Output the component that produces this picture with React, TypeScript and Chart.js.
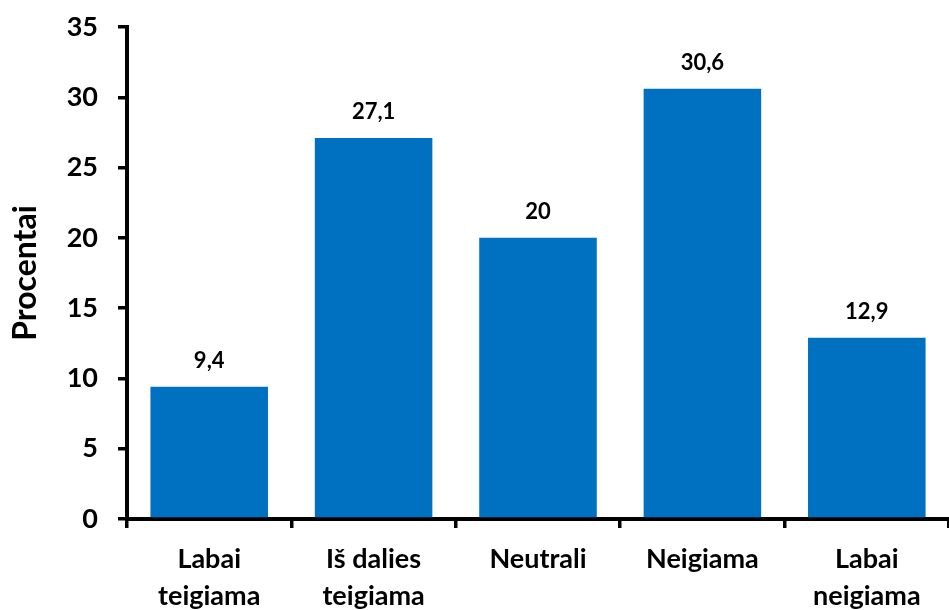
import React, { useEffect, useRef } from "react";
import { Chart, registerables } from "chart.js";

Chart.register(...registerables);

const categories: string[][] = [
  ["Labai", "teigiama"],
  ["Iš dalies", "teigiama"],
  ["Neutrali"],
  ["Neigiama"],
  ["Labai", "neigiama"],
];
const values: number[] = [9.4, 27.1, 20, 30.6, 12.9];
const valueLabels: string[] = ["9,4", "27,1", "20", "30,6", "12,9"];
const yTitle = "Procentai";

const FONT = "Lato, 'Open Sans', sans-serif";

const labelPlugin = {
  id: "valueLabels",
  afterDatasetsDraw(chart: any) {
    const { ctx } = chart;
    const meta = chart.getDatasetMeta(0);
    ctx.save();
    ctx.font = `bold 22px ${FONT}`;
    ctx.fillStyle = "#000";
    ctx.textAlign = "center";
    ctx.textBaseline = "middle";
    meta.data.forEach((bar: any, i: number) => {
      ctx.fillText(valueLabels[i], bar.x, bar.y - 26);
    });
    ctx.restore();
  },
};

export default function App() {
  const ref = useRef<HTMLCanvasElement>(null);
  useEffect(() => {
    document.body.style.margin = "0";
    const chart = new Chart(ref.current!, {
      type: "bar",
      data: {
        labels: categories,
        datasets: [
          {
            data: values,
            backgroundColor: "#0070C0",
            categoryPercentage: 1,
            barPercentage: 0.715,
          },
        ],
      },
      options: {
        animation: false,
        responsive: false,
        layout: { padding: { top: 27, right: 0, left: 0, bottom: 0 } },
        plugins: { legend: { display: false }, tooltip: { enabled: false } },
        scales: {
          x: {
            grid: {
              display: true,
              drawOnChartArea: false,
              drawTicks: true,
              tickLength: 9,
              color: "#000",
              lineWidth: 3.5,
              offset: true,
            },
            border: { display: true, color: "#000", width: 4 },
            ticks: {
              color: "#000",
              font: { family: FONT, size: 27, weight: "bold", lineHeight: 1.4 },
              padding: 12,
              maxRotation: 0,
              autoSkip: false,
            },
            afterFit: (s: any) => {
              s.height = 91;
              s.paddingLeft = 0;
              s.paddingRight = 0;
            },
          },
          y: {
            min: 0,
            max: 35,
            ticks: {
              stepSize: 5,
              color: "#000",
              font: { family: FONT, size: 27, weight: "bold" },
              padding: 20,
            },
            grid: {
              display: true,
              drawOnChartArea: false,
              drawTicks: true,
              tickLength: 9,
              color: "#000",
              lineWidth: 3.5,
            },
            border: { display: true, color: "#000", width: 4 },
            title: {
              display: true,
              text: yTitle,
              color: "#000",
              font: { family: FONT, size: 32, weight: "bold" },
              padding: { top: 6, bottom: 0 },
            },
            afterFit: (s: any) => {
              s.width = 127;
              s.paddingTop = 0;
              s.paddingBottom = 0;
            },
          },
        },
      },
      plugins: [labelPlugin],
    });
    return () => chart.destroy();
  }, []);
  return (
    <div style={{ position: "absolute", left: 0, top: 0 }}>
      <canvas ref={ref} width={949} height={610} style={{ display: "block" }} />
    </div>
  );
}
